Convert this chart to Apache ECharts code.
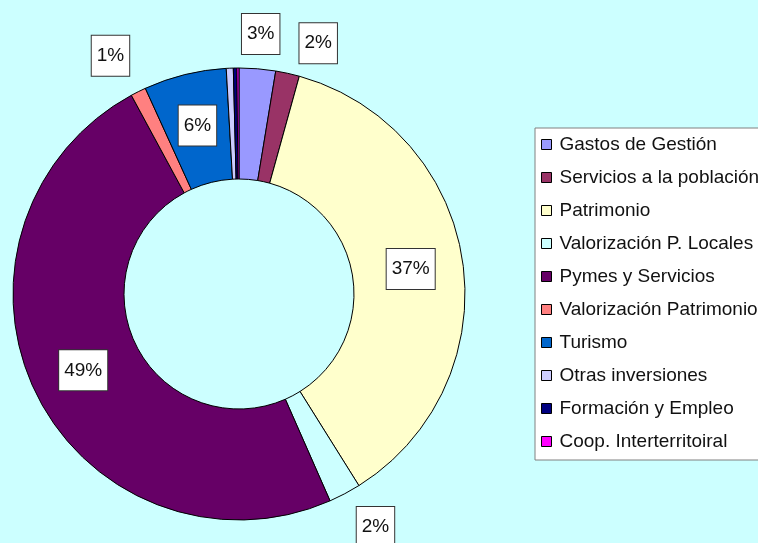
<!DOCTYPE html>
<html lang="es">
  <head>
    <meta charset="UTF-8">
    <title>Distribución de la inversión</title>
    <style>
      html, body { margin: 0; padding: 0; background: #ccffff; }
      #main { width: 758px; height: 543px; }
    </style>
  </head>
  <body>
    <div id="main"></div>
    <script src="https://cdn.jsdelivr.net/npm/echarts@6/dist/echarts.min.js"></script>
    <script>
      // datos (porcentaje del total)
      var categorias = ['Gastos de Gestión', 'Servicios a la población', 'Patrimonio',
        'Valorización P. Locales', 'Pymes y Servicios', 'Valorización Patrimonio',
        'Turismo', 'Otras inversiones', 'Formación y Empleo', 'Coop. Interterritoiral'];
      var valores = [2.6, 1.7, 36.8, 2.3, 48.7, 1.1, 5.9, 0.5, 0.25, 0.15];
      var colores = ['#9999ff', '#993366', '#ffffcc', '#ccffff', '#660066',
        '#ff8080', '#0066cc', '#ccccff', '#000080', '#ff00ff'];

      // pequeños desplazamientos de etiquetas exteriores, como en el original
      var ajusteEtiqueta = {
        'Gastos de Gestión': [0, 5],
        'Servicios a la población': [22, 9],
        'Valorización P. Locales': [12, -2],
        'Valorización Patrimonio': [-10, 0]
      };

      var myChart = echarts.init(document.getElementById('main'));

      var cajaEtiqueta = {
        fontFamily: 'Liberation Sans, Arial, sans-serif',
        fontSize: 19,
        lineHeight: 20,
        color: '#111',
        backgroundColor: '#fff',
        borderColor: '#333',
        borderWidth: 1,
        padding: [10, 5]
      };

      function fmt(p) { return Math.round(p.percent) + '%'; }

      var datos = categorias.map(function (n, i) {
        return { name: n, value: valores[i], itemStyle: { color: colores[i] } };
      });

      // etiquetas interiores (sectores grandes)
      var datosMain = datos.map(function (d) {
        return Object.assign({}, d, { label: { show: d.value > 5 } });
      });
      // etiquetas exteriores (sectores pequeños con al menos 1%)
      var datosFuera = datos.map(function (d) {
        return {
          name: d.name, value: d.value,
          itemStyle: { color: 'transparent', borderWidth: 0 },
          label: { show: d.value >= 1 && d.value <= 5 }
        };
      });

      var option = {
        backgroundColor: '#ccffff',
        animation: false,
        legend: {
          orient: 'vertical',
          left: 535,
          top: 128,
          data: categorias,
          backgroundColor: '#fff',
          borderColor: '#808080',
          borderWidth: 1,
          padding: [6, 10, 8, 6],
          itemWidth: 10,
          itemHeight: 10,
          itemGap: 12,
          selectedMode: false,
          icon: 'rect',
          itemStyle: { borderColor: '#000', borderWidth: 1 },
          textStyle: {
            fontFamily: 'Liberation Sans, Arial, sans-serif',
            fontSize: 19,
            lineHeight: 21,
            color: '#111',
            padding: [0, 0, 0, 3]
          }
        },
        series: [
          {
            type: 'pie',
            center: [239, 294],
            radius: [115, 226],
            startAngle: 90,
            avoidLabelOverlap: false,
            itemStyle: { borderColor: '#000', borderWidth: 1 },
            label: Object.assign({ position: 'inside', formatter: fmt }, cajaEtiqueta),
            labelLine: { show: false },
            emphasis: { disabled: true },
            data: datosMain
          },
          {
            type: 'pie',
            center: [239, 294],
            radius: [226, 300],
            startAngle: 90,
            silent: true,
            avoidLabelOverlap: false,
            legendHoverLink: false,
            label: Object.assign({ position: 'inside', formatter: fmt }, cajaEtiqueta),
            labelLine: { show: false },
            labelLayout: function (params) {
              var a = ajusteEtiqueta[categorias[params.dataIndex]] || [0, 0];
              return { dx: a[0], dy: a[1], hideOverlap: false };
            },
            emphasis: { disabled: true },
            data: datosFuera
          }
        ]
      };

      myChart.setOption(option);
    </script>
  </body>
</html>
